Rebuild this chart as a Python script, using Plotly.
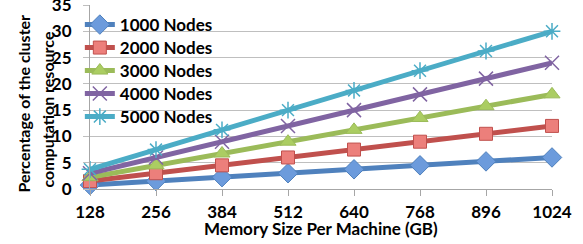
import plotly.graph_objects as go

memory_gb = ["128", "256", "384", "512", "640", "768", "896", "1024"]
nodes_1000 = [0.75, 1.5, 2.25, 3.0, 3.75, 4.5, 5.25, 6.0]
nodes_2000 = [1.5, 3.0, 4.5, 6.0, 7.5, 9.0, 10.5, 12.0]
nodes_3000 = [2.25, 4.5, 6.75, 9.0, 11.25, 13.5, 15.75, 18.0]
nodes_4000 = [3.0, 6.0, 9.0, 12.0, 15.0, 18.0, 21.0, 24.0]
nodes_5000 = [3.75, 7.5, 11.25, 15.0, 18.75, 22.5, 26.25, 30.0]
y_ticks = [0, 5, 10, 15, 20, 25, 30, 35]

FONT = "Lato"
series = [
    ("1000 Nodes", nodes_1000, "#4F81BD", "#6C9BDC", "diamond", 15),
    ("2000 Nodes", nodes_2000, "#C0504D", "#EC7F7B", "square", 13),
    ("3000 Nodes", nodes_3000, "#9BBB59", "#ABCD62", "triangle-up", 14),
    ("4000 Nodes", nodes_4000, "#8064A2", "#8064A2", "x-thin", 14),
    ("5000 Nodes", nodes_5000, "#4BACC6", "#4BACC6", "asterisk", 14),
]
legend_ids = ["legend", "legend2", "legend3", "legend4", "legend5"]
legend_tops = [0.989, 0.864, 0.739, 0.614, 0.489]

fig = go.Figure()
for (name, vals, col, fill, sym, sz), lid in zip(series, legend_ids):
    thin = sym in ("x-thin", "asterisk")
    fig.add_trace(go.Scatter(
        x=memory_gb, y=vals, name=name, mode="lines+markers",
        line=dict(color=col, width=5),
        marker=dict(symbol=sym, size=sz, color=fill,
                    line=dict(color=col if not thin else fill, width=1.5 if thin else 1)),
        cliponaxis=False, legend=lid,
    ))

legend_layout = {}
for lid, top in zip(legend_ids, legend_tops):
    legend_layout[lid] = dict(x=-0.022, y=top, xanchor="left", yanchor="top",
                              bgcolor="rgba(0,0,0,0)",
                              font=dict(family=FONT, size=17, weight="bold"),
                              itemwidth=30)

fig.update_layout(
    width=583, height=244,
    margin=dict(l=90, r=31, t=5, b=55),
    paper_bgcolor="white", plot_bgcolor="white",
    font=dict(family=FONT, size=17, color="black"),
    showlegend=True,
    xaxis=dict(type="category", range=[0, 7], showgrid=False,
               showline=True, linecolor="#A6A6A6", linewidth=1,
               ticks="outside", ticklen=6, tickcolor="#A6A6A6",
               tickfont=dict(family=FONT, size=17, weight="bold"),
               ticklabelstandoff=2, automargin=False),
    yaxis=dict(range=[0, 35], tickvals=y_ticks, showgrid=True, gridcolor="#BFBFBF", gridwidth=1,
               showline=True, linecolor="#A6A6A6", linewidth=1,
               ticks="outside", ticklen=6, tickcolor="#BFBFBF",
               tickfont=dict(family=FONT, size=17, weight="bold"),
               ticklabelstandoff=8, ticklabeloverflow="allow",
               zeroline=False, automargin=False),
    annotations=[
        dict(text="<b>Percentage of the cluster</b>", textangle=-90, xref="paper", yref="paper",
             x=-0.145, y=0.465, xanchor="center", yanchor="middle", showarrow=False,
             font=dict(family=FONT, size=16, color="black")),
        dict(text="<b>computation resource</b>", textangle=-90, xref="paper", yref="paper",
             x=-0.093, y=0.432, xanchor="center", yanchor="middle", showarrow=False,
             font=dict(family=FONT, size=16, color="black")),
        dict(text="<b>Memory Size Per Machine (GB)</b>", xref="paper", yref="paper",
             x=0.5, y=-0.215, xanchor="center", yanchor="middle", showarrow=False,
             font=dict(family=FONT, size=17, color="black")),
    ],
    **legend_layout,
)

fig.write_html("out.html", config={"displayModeBar": False},
               post_script="document.body.style.margin='0';document.body.style.padding='0';")
